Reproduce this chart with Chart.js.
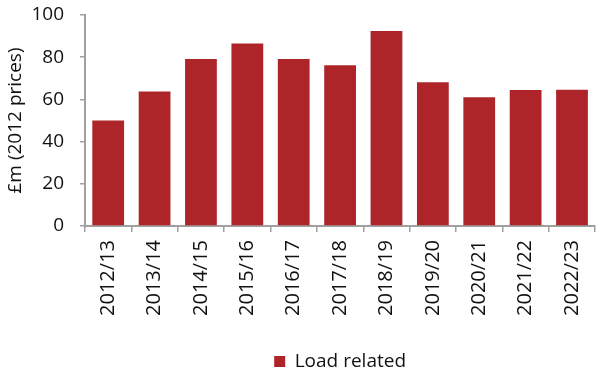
<!DOCTYPE html>
<html>
<head>
<meta charset="utf-8">
<script src="https://cdn.jsdelivr.net/npm/chart.js@4"></script>
<style>
  html, body { margin: 0; padding: 0; background: #fff; }
  #wrap { width: 604px; height: 374px; }
</style>
</head>
<body>
<div id="wrap"><canvas id="chart"></canvas></div>
<script>
const years = ['2012/13', '2013/14', '2014/15', '2015/16', '2016/17', '2017/18',
               '2018/19', '2019/20', '2020/21', '2021/22', '2022/23'];
const loadRelated = [50.0, 63.8, 79.2, 86.5, 79.2, 76.2, 92.4, 68.1, 61.0, 64.4, 64.6];
const yTicks = [0, 20, 40, 60, 80, 100];

const axisGrey = '#a0a0a0';
const textColour = '#111';
const tickFont = { family: 'Open Sans', size: 19 };
const xFont = { family: 'Open Sans', size: 20 };

// keep the legend centred under the plot and a little lower
const legendUnderPlot = {
    id: 'legendUnderPlot',
    afterLayout(chart) {
        const lg = chart.legend;
        lg.left = chart.chartArea.left;
        lg.right = chart.chartArea.right;
        lg.top += 7;
        lg.bottom += 7;
    }
};

new Chart(document.getElementById('chart'), {
    type: 'bar',
    data: {
        labels: years,
        datasets: [{
            label: 'Load related',
            data: loadRelated,
            backgroundColor: '#ad2429',
            categoryPercentage: 1,
            barPercentage: 0.685
        }]
    },
    options: {
        responsive: true,
        maintainAspectRatio: false,
        animation: false,
        layout: { padding: { top: 0, right: 0, left: 0, bottom: 0 } },
        scales: {
            x: {
                afterFit(scale) { scale.height = 116; },
                grid: { drawOnChartArea: false, color: axisGrey, lineWidth: 1.5, tickLength: 6 },
                border: { color: axisGrey, width: 2 },
                ticks: { color: textColour, font: xFont, minRotation: 90, maxRotation: 90, padding: 8 }
            },
            y: {
                min: 0,
                max: 100,
                afterBuildTicks(axis) {
                    axis.ticks = yTicks.map(v => ({ value: v }));
                },
                afterFit(scale) {
                    // fixed axis width; tick padding should not add space above the plot
                    scale.width = 85;
                    scale.paddingTop = 15;
                    scale.paddingBottom = 0;
                },
                grid: { drawOnChartArea: false, color: axisGrey, lineWidth: 1.5, tickLength: 5 },
                border: { color: axisGrey, width: 2 },
                ticks: { color: textColour, font: tickFont, padding: 16 },
                title: { display: true, text: '£m (2012 prices)', color: textColour, font: tickFont, padding: { top: 4, bottom: 0 } }
            }
        },
        plugins: {
            legend: {
                position: 'bottom',
                labels: { color: textColour, font: tickFont, boxWidth: 11, boxHeight: 11, padding: 3 }
            },
            tooltip: { enabled: false }
        }
    },
    plugins: [legendUnderPlot]
});
</script>
</body>
</html>
